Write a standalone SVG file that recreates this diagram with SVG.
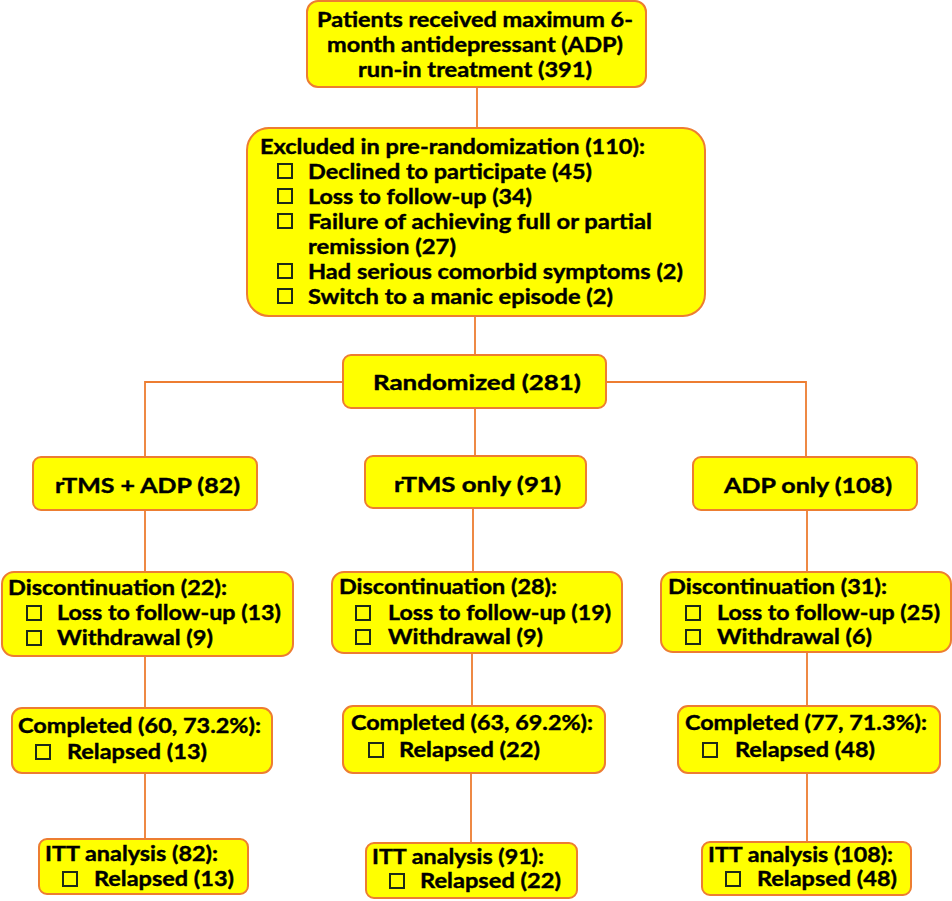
<svg xmlns="http://www.w3.org/2000/svg" width="952" height="901" viewBox="0 0 952 901">
<style>
.box{fill:#FFFF00;stroke:#ED7D31;stroke-width:2}
.ln{fill:none;stroke:#ED7D31;stroke-width:1.8}
text{font-family:Lato,"Liberation Sans",sans-serif;font-weight:700;font-size:21px;fill:#000;stroke:#000;stroke-width:0.4}
.cb{fill:none;stroke:#1c2a18;stroke-width:2}
</style>
<rect width="952" height="901" fill="#fff"/>
<g id="connectors">
<path class="ln" d="M477,87V128"/>
<path class="ln" d="M475,316V355"/>
<path class="ln" d="M343,382H145V457"/>
<path class="ln" d="M606,382H806V457"/>
<path class="ln" d="M475,408V456"/>
<path class="ln" d="M145,510V572M145,656V708M145,773V839"/>
<path class="ln" d="M473,508V572M472,653V706M471,773V843"/>
<path class="ln" d="M807,510V572M807,652V706M807,773V842"/>
</g>
<g id="n-start">
<rect class="box" x="307" y="1" width="339" height="86" rx="11"/>
<text x="317" y="27" textLength="316" lengthAdjust="spacingAndGlyphs">Patients received maximum 6-</text>
<text x="327" y="52" textLength="296" lengthAdjust="spacingAndGlyphs">month antidepressant (ADP)</text>
<text x="358" y="77" textLength="234" lengthAdjust="spacingAndGlyphs">run-in treatment (391)</text>
</g>
<g id="n-excluded">
<rect class="box" x="247" y="128" width="458" height="188" rx="22"/>
<text x="260" y="154" textLength="385" lengthAdjust="spacingAndGlyphs">Excluded in pre-randomization (110):</text>
<rect class="cb" x="278" y="164" width="14" height="14"/>
<text x="308" y="179" textLength="284" lengthAdjust="spacingAndGlyphs">Declined to participate (45)</text>
<rect class="cb" x="278" y="189" width="14" height="14"/>
<text x="308" y="204" textLength="224" lengthAdjust="spacingAndGlyphs">Loss to follow-up (34)</text>
<rect class="cb" x="278" y="214" width="14" height="14"/>
<text x="308" y="229" textLength="344" lengthAdjust="spacingAndGlyphs">Failure of achieving full or partial</text>
<text x="308" y="254" textLength="148" lengthAdjust="spacingAndGlyphs">remission (27)</text>
<rect class="cb" x="278" y="264" width="14" height="14"/>
<text x="308" y="279" textLength="375" lengthAdjust="spacingAndGlyphs">Had serious comorbid symptoms (2)</text>
<rect class="cb" x="278" y="289" width="14" height="14"/>
<text x="308" y="304" textLength="305" lengthAdjust="spacingAndGlyphs">Switch to a manic episode (2)</text>
</g>
<g id="n-randomized">
<rect class="box" x="343" y="355" width="263" height="53" rx="8"/>
<text x="373" y="390" textLength="208" lengthAdjust="spacingAndGlyphs">Randomized (281)</text>
</g>
<g id="n-arm1">
<rect class="box" x="33" y="457" width="224" height="53" rx="8"/>
<text x="55" y="493" textLength="185" lengthAdjust="spacingAndGlyphs">rTMS + ADP (82)</text>
</g>
<g id="n-arm2">
<rect class="box" x="365" y="456" width="221" height="52" rx="8"/>
<text x="394" y="492" textLength="167" lengthAdjust="spacingAndGlyphs">rTMS only (91)</text>
</g>
<g id="n-arm3">
<rect class="box" x="693" y="457" width="224" height="53" rx="8"/>
<text x="724" y="493" textLength="168" lengthAdjust="spacingAndGlyphs">ADP only (108)</text>
</g>
<g id="n-disc1">
<rect class="box" x="2" y="572" width="291" height="84" rx="12"/>
<text x="8" y="595" textLength="219" lengthAdjust="spacingAndGlyphs">Discontinuation (22):</text>
<rect class="cb" x="27" y="606" width="14" height="14"/>
<text x="57" y="620" textLength="224" lengthAdjust="spacingAndGlyphs">Loss to follow-up (13)</text>
<rect class="cb" x="27" y="631" width="14" height="14"/>
<text x="57" y="645" textLength="156" lengthAdjust="spacingAndGlyphs">Withdrawal (9)</text>
</g>
<g id="n-disc2">
<rect class="box" x="332" y="572" width="290" height="81" rx="12"/>
<text x="339" y="594" textLength="218" lengthAdjust="spacingAndGlyphs">Discontinuation (28):</text>
<rect class="cb" x="356" y="606" width="14" height="14"/>
<text x="388" y="620" textLength="223" lengthAdjust="spacingAndGlyphs">Loss to follow-up (19)</text>
<rect class="cb" x="356" y="630" width="14" height="14"/>
<text x="388" y="644" textLength="155" lengthAdjust="spacingAndGlyphs">Withdrawal (9)</text>
</g>
<g id="n-disc3">
<rect class="box" x="661" y="572" width="290" height="80" rx="12"/>
<text x="668" y="594" textLength="219" lengthAdjust="spacingAndGlyphs">Discontinuation (31):</text>
<rect class="cb" x="686" y="606" width="14" height="14"/>
<text x="717" y="620" textLength="223" lengthAdjust="spacingAndGlyphs">Loss to follow-up (25)</text>
<rect class="cb" x="686" y="630" width="14" height="14"/>
<text x="717" y="644" textLength="155" lengthAdjust="spacingAndGlyphs">Withdrawal (6)</text>
</g>
<g id="n-comp1">
<rect class="box" x="12" y="708" width="260" height="65" rx="10"/>
<text x="18" y="733" textLength="243" lengthAdjust="spacingAndGlyphs">Completed (60, 73.2%):</text>
<rect class="cb" x="36" y="745" width="14" height="14"/>
<text x="67" y="759" textLength="140" lengthAdjust="spacingAndGlyphs">Relapsed (13)</text>
</g>
<g id="n-comp2">
<rect class="box" x="343" y="706" width="262" height="67" rx="10"/>
<text x="351" y="730" textLength="242" lengthAdjust="spacingAndGlyphs">Completed (63, 69.2%):</text>
<rect class="cb" x="369" y="743" width="14" height="14"/>
<text x="399" y="757" textLength="141" lengthAdjust="spacingAndGlyphs">Relapsed (22)</text>
</g>
<g id="n-comp3">
<rect class="box" x="678" y="706" width="262" height="67" rx="10"/>
<text x="685" y="730" textLength="242" lengthAdjust="spacingAndGlyphs">Completed (77, 71.3%):</text>
<rect class="cb" x="703" y="743" width="14" height="14"/>
<text x="735" y="757" textLength="140" lengthAdjust="spacingAndGlyphs">Relapsed (48)</text>
</g>
<g id="n-itt1">
<rect class="box" x="39" y="839" width="209" height="55" rx="8"/>
<text x="45" y="861" textLength="173" lengthAdjust="spacingAndGlyphs">ITT analysis (82):</text>
<rect class="cb" x="63" y="872" width="14" height="14"/>
<text x="94" y="886" textLength="140" lengthAdjust="spacingAndGlyphs">Relapsed (13)</text>
</g>
<g id="n-itt2">
<rect class="box" x="366" y="843" width="211" height="55" rx="8"/>
<text x="372" y="864" textLength="172" lengthAdjust="spacingAndGlyphs">ITT analysis (91):</text>
<rect class="cb" x="390" y="874" width="14" height="14"/>
<text x="420" y="888" textLength="141" lengthAdjust="spacingAndGlyphs">Relapsed (22)</text>
</g>
<g id="n-itt3">
<rect class="box" x="702" y="842" width="209" height="53" rx="8"/>
<text x="708" y="862" textLength="185" lengthAdjust="spacingAndGlyphs">ITT analysis (108):</text>
<rect class="cb" x="726" y="872" width="14" height="14"/>
<text x="757" y="886" textLength="140" lengthAdjust="spacingAndGlyphs">Relapsed (48)</text>
</g>
</svg>
